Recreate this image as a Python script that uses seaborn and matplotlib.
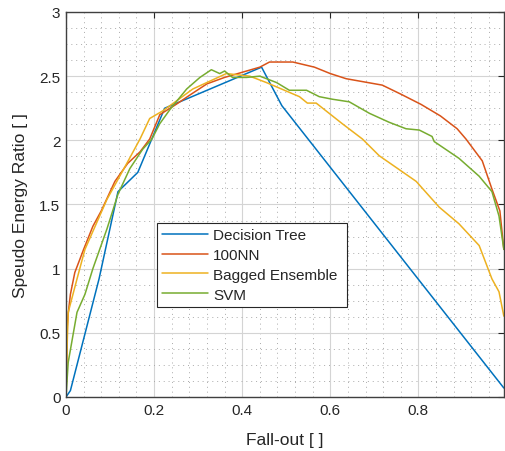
import numpy as np
import pandas as pd
import matplotlib
matplotlib.use("Agg")
import matplotlib.pyplot as plt
import seaborn as sns
from matplotlib.ticker import MultipleLocator
from matplotlib.lines import Line2D

sns.set_style("white")
plt.rcParams['font.family'] = ['Liberation Sans', 'DejaVu Sans']

# ---- data ----
dt_x = [0.0, 0.01, 0.075, 0.118, 0.163, 0.224, 0.444, 0.49, 0.892, 0.994]
dt_y = [0.0, 0.05, 0.92, 1.60, 1.75, 2.25, 2.57, 2.27, 0.515, 0.07]

nn_x = [0.0, 0.003, 0.005, 0.01, 0.02, 0.04, 0.061, 0.08, 0.111, 0.14, 0.168, 0.19, 0.213,
        0.25, 0.28, 0.32, 0.36, 0.40, 0.44, 0.462, 0.515, 0.564, 0.60, 0.636, 0.718,
        0.76, 0.806, 0.85, 0.888, 0.908, 0.945, 0.967, 0.985, 0.994]
nn_y = [0.0, 0.55, 0.65, 0.80, 0.97, 1.15, 1.33, 1.45, 1.68, 1.82, 1.91, 2.01, 2.20,
        2.28, 2.35, 2.44, 2.49, 2.53, 2.57, 2.61, 2.61, 2.57, 2.52, 2.48, 2.43,
        2.36, 2.28, 2.19, 2.09, 2.01, 1.84, 1.62, 1.45, 1.15]

be_x = [0.0, 0.003, 0.005, 0.025, 0.043, 0.093, 0.138, 0.168, 0.19, 0.22, 0.288, 0.364,
        0.417, 0.455, 0.53, 0.548, 0.568, 0.627, 0.673, 0.711, 0.795, 0.847, 0.892,
        0.938, 0.967, 0.983, 0.994]
be_y = [0.0, 0.45, 0.66, 0.92, 1.15, 1.54, 1.82, 2.01, 2.17, 2.23, 2.40, 2.52,
        2.50, 2.45, 2.34, 2.29, 2.29, 2.13, 2.01, 1.88, 1.68, 1.48, 1.35,
        1.18, 0.92, 0.82, 0.63]

svm_x = [0.0, 0.005, 0.025, 0.043, 0.061, 0.093, 0.118, 0.145, 0.174, 0.195, 0.213, 0.236,
         0.274, 0.304, 0.33, 0.349, 0.36, 0.378, 0.41, 0.44, 0.478, 0.507, 0.546, 0.575,
         0.605, 0.643, 0.689, 0.734, 0.772, 0.802, 0.831, 0.836, 0.892, 0.938, 0.967,
         0.983, 0.994]
svm_y = [0.0, 0.27, 0.66, 0.80, 1.00, 1.31, 1.58, 1.78, 1.93, 2.01, 2.13, 2.24,
         2.40, 2.49, 2.55, 2.52, 2.54, 2.49, 2.49, 2.50, 2.45, 2.39, 2.39, 2.34,
         2.32, 2.30, 2.21, 2.14, 2.09, 2.08, 2.03, 1.99, 1.86, 1.72, 1.60,
         1.41, 1.15]

names = ["Decision Tree", "100NN", "Bagged Ensemble", "SVM"]
colors = ["#0072BD", "#D95319", "#EDB120", "#77AC30"]

frames = []
for n, xs, ys in zip(names, [dt_x, nn_x, be_x, svm_x], [dt_y, nn_y, be_y, svm_y]):
    frames.append(pd.DataFrame({"x": xs, "y": ys, "model": n}))
df = pd.concat(frames, ignore_index=True)

fig = plt.figure(figsize=(5.05, 4.52), dpi=100)
ax = fig.add_axes([0.1307, 0.1195, 0.867, 0.8518])

sns.lineplot(data=df, x="x", y="y", hue="model", hue_order=names,
             palette=dict(zip(names, colors)), sort=False, estimator=None,
             units="model", linewidth=1.1, ax=ax, legend=False)

ax.set_xlim(0, 0.994)
ax.set_ylim(0, 3)
ax.xaxis.set_minor_locator(MultipleLocator(0.04))
ax.yaxis.set_minor_locator(MultipleLocator(0.125))
ax.set_xticks([0, 0.2, 0.4, 0.6, 0.8])
ax.set_xticklabels(["0", "0.2", "0.4", "0.6", "0.8"])
ax.set_yticks([0, 0.5, 1, 1.5, 2, 2.5, 3])
ax.set_yticklabels(["0", "0.5", "1", "1.5", "2", "2.5", "3"])

ax.grid(which="major", color="#d4d4d4", linewidth=0.8, linestyle="-")
ax.grid(which="minor", color="#aaaaaa", linewidth=0.7, linestyle=(0, (1, 4)))
ax.set_axisbelow(True)

ax.tick_params(which="major", direction="in", length=4, width=0.8, top=True, right=True,
               colors="#262626", labelsize=11, pad=4)
ax.tick_params(which="minor", length=0, top=True, right=True)
for s in ax.spines.values():
    s.set_color("#404040")
    s.set_linewidth(1.0)

ax.set_xlabel("Fall-out [ ]", fontsize=12.5, color="#262626", labelpad=11)
ax.set_ylabel("Speudo Energy Ratio [ ]", fontsize=12.5, color="#262626", labelpad=8)

handles = [Line2D([0], [0], color=c, lw=1.1) for c in colors]
leg = ax.legend(handles, names, loc="lower left", bbox_to_anchor=(0.207, 0.234, 0.434, 0.226),
                mode="expand", fontsize=11, frameon=True, fancybox=False,
                edgecolor="#262626", framealpha=1, borderpad=0.35, labelspacing=0.38,
                handlelength=3.0, handletextpad=0.35, borderaxespad=0)
leg.get_frame().set_linewidth(0.8)

fig.savefig("out.png", dpi=100)
